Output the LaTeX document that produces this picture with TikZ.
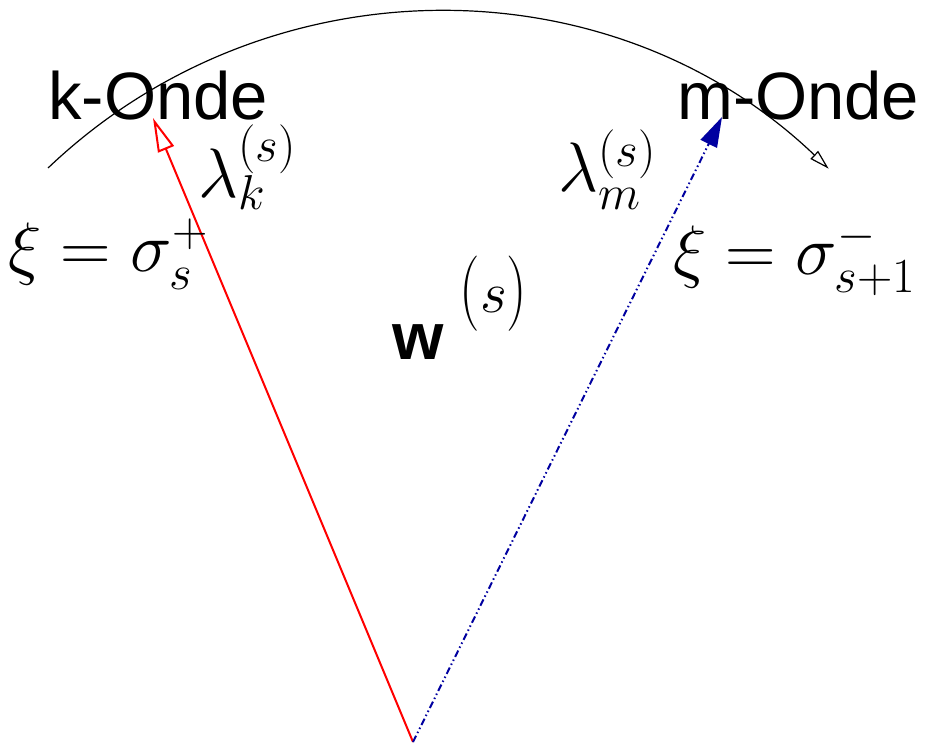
\RequirePackage{fix-cm}
\documentclass[tikz,border=0pt]{standalone}
\usepackage{fontspec}
\newfontfamily\hv{Liberation Sans}
\usetikzlibrary{arrows.meta}
\definecolor{dkblue}{RGB}{0,0,160}
\newcommand{\tallparen}[1]{\scalebox{1}[1.3]{$#1$}}
\tikzset{
  lbl/.style={inner sep=0pt, anchor=base west, font=\fontsize{70}{84}\selectfont},
  wave/.style={inner sep=0pt, anchor=base west, font=\hv\fontsize{67}{80}\selectfont},
  kline/.style={red, line width=2pt, -{Triangle[open, length=34pt, width=17pt]}},
  mline/.style={dkblue, line width=2pt, dash pattern=on 7pt off 3pt on 1.5pt off 3pt on 1.5pt off 3pt, -{Triangle[length=30pt, width=18pt]}},
  arcline/.style={black, line width=1.2pt, -{Triangle[open, length=20pt, width=11pt]}}
}
\begin{document}
\begin{tikzpicture}[x=1pt, y=1pt]
\useasboundingbox (0,0) rectangle (925,745);
% arc
\draw[arcline] (438,167.5) ++(133.6:565.5) coordinate (arcstart) arc[start angle=133.6, end angle=46.3, radius=565.5] coordinate (arcend);
% wave names
\node[wave] (konde) at (48,625) {k-Onde};
\node[wave] (monde) at (677,625) {m-Onde};
% origin and tips
\coordinate (o) at (413,3);
\coordinate (ktip) at (153,627);
\coordinate (mtip) at (722,628);
\draw[kline] (o) -- (ktip);
\draw[mline] (o) -- (mtip);
% labels
\node[lbl] (lk) at (198,547) {$\lambda_k^{(s)}$};
\node[lbl] (lm) at (558,553) {$\lambda_m^{(s)}$};
\node[lbl] (xil) at (8,473) {$\xi=\sigma_s^+$};
\node[lbl] (xir) at (673,470) {$\xi=\sigma_{s+1}^-$};
\node[inner sep=0pt, anchor=base west] (w) at (392,385)
  {\hv\fontsize{66}{79}\selectfont\bfseries w\kern16pt\raisebox{47pt}{\normalfont\fontsize{58}{68}\selectfont\tallparen{(}$s$\tallparen{)}}};
\end{tikzpicture}
\end{document}
